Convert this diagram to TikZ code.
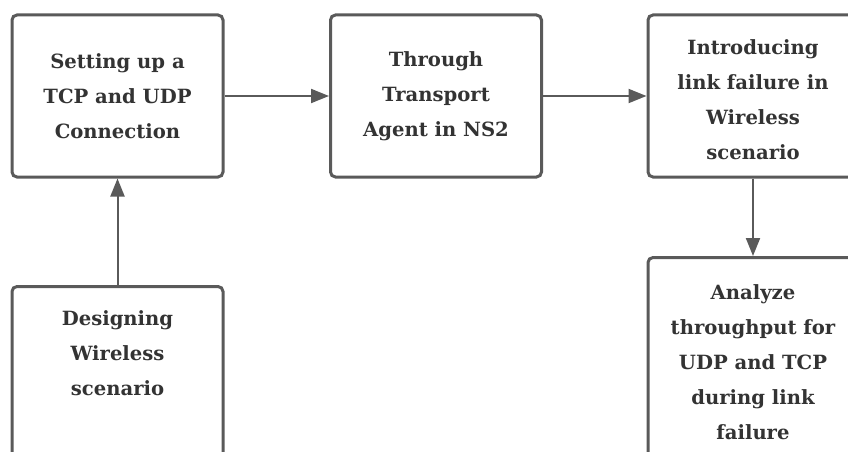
\documentclass[tikz,border=0pt]{standalone}
\usepackage{fontspec}
\setmainfont{DejaVu Serif}
\usetikzlibrary{positioning,arrows.meta}
\definecolor{boxline}{HTML}{5A5A5A}
\definecolor{boxtext}{HTML}{333333}
\tikzset{
  stepbox/.style={draw=boxline, line width=3pt, rounded corners=5pt, fill=white,
    minimum width=211pt, minimum height=162pt, inner sep=0pt},
  steptext/.style={text=boxtext, align=center, inner sep=0pt,
    font=\bfseries\fontsize{19.6}{35}\selectfont},
  flow/.style={draw=boxline, line width=2pt, -{Triangle[length=18pt,width=14pt]}}
}
\begin{document}
\begin{tikzpicture}[x=1pt,y=-1pt]
  \useasboundingbox (0,0) rectangle (848,452);
  \clip (0,0) rectangle (848,452);
  % top row
  \node[stepbox] (setup) at (117.5,96) {};
  \node[steptext] (setuptxt) at (setup.center) {Setting up a\\TCP and UDP\\Connection};
  \node[stepbox] (agent) at (436,96) {};
  \node[steptext] (agenttxt) at (agent.center) {Through\\Transport\\Agent in NS2};
  \node[stepbox, minimum width=210pt] (fail) at (753,96) {};
  \node[steptext] (failtxt) at (753,100) {Introducing\\link failure in\\Wireless\\scenario};
  % bottom row (runs past the page edge)
  \node[stepbox, minimum height=220pt, anchor=north] (design) at (117.5,285) {};
  \node[steptext] (designtxt) at (117.5,353) {Designing\\Wireless\\scenario};
  \node[stepbox, minimum width=210pt, minimum height=220pt, anchor=north] (analyze) at (753,256) {};
  \node[steptext] (analyzetxt) at (753,362) {Analyze\\throughput for\\UDP and TCP\\during link\\failure};
  % arrows
  \draw[flow] (design.north) -- (setup.south);
  \draw[flow] (setup.east |- 0,96) -- (agent.west |- 0,96);
  \draw[flow] (agent) -- (fail);
  \draw[flow] (fail) -- (analyze.north);
\end{tikzpicture}
\end{document}
